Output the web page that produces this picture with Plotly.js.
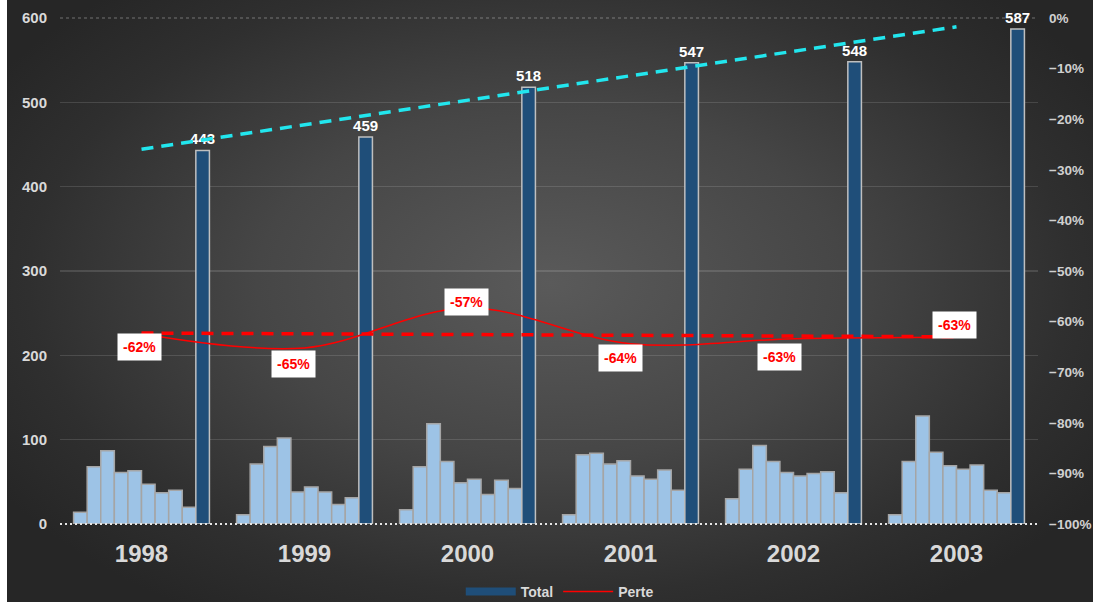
<!DOCTYPE html>
<html>
<head>
<meta charset="utf-8">
<script src="https://cdn.plot.ly/plotly-3.0.1.min.js"></script>
<style>
  html, body { margin: 0; padding: 0; background: #ffffff; }
  #chart {
    position: absolute; left: 7px; top: 0;
    width: 1086px; height: 602px;
    background: radial-gradient(ellipse 60% 65% at 50% 47%, #5a5a5a 0%, #464646 45%, #2f2f2f 80%, #262626 100%);
  }
</style>
</head>
<body>
<div id="chart"></div>
<script>
// ---- data ----
var years = ['1998', '1999', '2000', '2001', '2002', '2003'];
var periodValues = [
  [14, 68, 87, 61, 63, 47, 37, 40, 20],
  [11, 71, 92, 102, 38, 44, 38, 23, 31],
  [17, 68, 119, 74, 49, 53, 35, 52, 42],
  [11, 82, 84, 71, 75, 57, 53, 64, 40],
  [30, 65, 93, 74, 61, 57, 60, 62, 37],
  [11, 74, 128, 85, 69, 65, 70, 40, 37]
];
var totals = [443, 459, 518, 547, 548, 587];
var perte = [-0.624, -0.652, -0.573, -0.644, -0.634, -0.631];
var leftTicks = [0, 100, 200, 300, 400, 500, 600];

// ---- layout helpers (slots on a numeric axis) ----
var SLOTS = 12;           // per year group: gap, 9 periods, total, gap
function groupCenter(g) { return g * SLOTS + SLOTS / 2; }

var smallX = [], smallY = [];
periodValues.forEach(function (arr, g) {
  arr.forEach(function (v, i) { smallX.push(g * SLOTS + 1 + i + 0.5); smallY.push(v); });
});
var totalX = totals.map(function (v, g) { return g * SLOTS + 10 + 0.5; });
var centers = years.map(function (y, g) { return groupCenter(g); });

function linreg(vals) {
  var n = vals.length, mx = (n + 1) / 2, my = vals.reduce(function (a, b) { return a + b; }, 0) / n;
  var sxy = 0, sxx = 0;
  vals.forEach(function (v, i) { var dx = (i + 1) - mx; sxy += dx * (v - my); sxx += dx * dx; });
  var b = sxy / sxx;
  return [my + b * (1 - mx), my + b * (n - mx)];
}
var totalTrend = linreg(totals);
var perteTrend = linreg(perte);
var trendX = [centers[0], centers[centers.length - 1]];

var font = 'Liberation Sans, Arial, sans-serif';

var traces = [
  {
    type: 'bar', x: smallX, y: smallY, width: 1, showlegend: false,
    marker: { color: '#9dc3e6', line: { color: '#a5a5a5', width: 1.5 } },
    hoverinfo: 'y'
  },
  {
    type: 'bar', name: 'Total', x: totalX, y: totals, width: 1, showlegend: false,
    marker: { color: '#1f4e79', line: { color: '#bfbfbf', width: 1.5 } },
    text: totals.map(String), textposition: 'outside', cliponaxis: false, constraintext: 'none',
    textfont: { color: '#ffffff', size: 15, family: font, weight: 'bold' }
  },
  // legend entry for Total (wide bar-coloured swatch)
  {
    type: 'scatter', mode: 'lines', name: 'Total', x: [null], y: [null],
    line: { color: '#1f4e79', width: 8 }
  },
  {
    type: 'scatter', mode: 'lines', x: trendX, y: totalTrend, showlegend: false,
    line: { color: '#22e6ee', width: 3.5, dash: '12px,8px' }, hoverinfo: 'skip'
  },
  {
    type: 'scatter', mode: 'lines', x: trendX, y: perteTrend, yaxis: 'y2', showlegend: false,
    line: { color: '#ff0000', width: 3.5, dash: '12px,8px' }, hoverinfo: 'skip'
  },
  {
    type: 'scatter', mode: 'lines', name: 'Perte', x: centers, y: perte, yaxis: 'y2',
    line: { color: '#ff0000', width: 1.5, shape: 'spline', smoothing: 1 }
  },
  // invisible helper trace so the grid axis is drawn
  {
    type: 'scatter', mode: 'markers', x: [centers[0]], y: [0], yaxis: 'y3', showlegend: false,
    marker: { opacity: 0 }, hoverinfo: 'skip'
  }
];

// label offsets (pixels) for the Perte labels
var labelShift = [[-2, -13], [-11, -16], [-1, 6], [-10, -14], [-14, -18], [-2, 12]];
var annotations = perte.map(function (v, i) {
  return {
    x: centers[i], y: v, xref: 'x', yref: 'y2', showarrow: false,
    text: Math.round(v * 100) + '%',
    xshift: labelShift[i][0], yshift: labelShift[i][1],
    bgcolor: '#ffffff', borderpad: 5,
    font: { color: '#ff0000', size: 14, family: font, weight: 'bold' }
  };
});

var layout = {
  width: 1086, height: 602,
  paper_bgcolor: 'rgba(0,0,0,0)', plot_bgcolor: 'rgba(0,0,0,0)',
  margin: { l: 53, r: 55, t: 18, b: 78, autoexpand: false },
  barmode: 'overlay', bargap: 0,
  font: { family: font, color: '#d9d9d9' },
  xaxis: {
    range: [0, years.length * SLOTS], tickmode: 'array', tickvals: centers, ticktext: years,
    showgrid: false, zeroline: false, showline: false, ticks: '',
    tickfont: { size: 24, color: '#d9d9d9', family: font, weight: 'bold' },
    ticklabelstandoff: 13
  },
  yaxis: {
    range: [0, 600], tickmode: 'array', tickvals: leftTicks, showgrid: false, zeroline: false,
    tickfont: { size: 15, color: '#d9d9d9', family: font, weight: 'bold' },
    ticklabelstandoff: 12, ticks: ''
  },
  yaxis3: {
    range: [0, 600], overlaying: 'y', tickmode: 'array', tickvals: leftTicks.slice(1, -1),
    showticklabels: false, showgrid: true, gridcolor: 'rgba(255,255,255,0.13)', gridwidth: 1.5,
    zeroline: false, ticks: '', layer: 'below traces'
  },
  yaxis2: {
    range: [-1, 0], overlaying: 'y', side: 'right', tickformat: '.0%', dtick: 0.1,
    showgrid: false, zeroline: false, ticks: '',
    tickfont: { size: 13.5, color: '#d0d0d0', family: font, weight: 'bold' },
    ticklabelstandoff: 10
  },
  legend: {
    orientation: 'h', x: 0.511, xanchor: 'center', y: -0.134, yanchor: 'middle',
    font: { size: 14, color: '#d9d9d9', family: font, weight: 'bold' },
    bgcolor: 'rgba(0,0,0,0)', itemwidth: 50
  },
  shapes: [
    { type: 'line', xref: 'paper', yref: 'paper', x0: 0, x1: 1, y0: 1, y1: 1,
      line: { color: 'rgba(255,255,255,0.35)', width: 1, dash: 'dot' }, layer: 'below' },
    { type: 'line', xref: 'paper', yref: 'paper', x0: 0, x1: 1, y0: 0, y1: 0,
      line: { color: '#e6e6e6', width: 2, dash: '2px,3px' }, layer: 'above' }
  ],
  annotations: annotations
};

Plotly.newPlot('chart', traces, layout, { displayModeBar: false, staticPlot: true });
</script>
</body>
</html>
